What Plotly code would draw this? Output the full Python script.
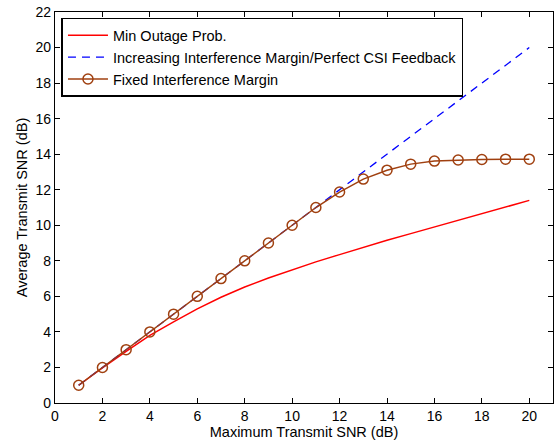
import plotly.graph_objects as go

snr_max = list(range(1, 21))
min_outage = [1.0, 1.98, 2.9, 3.8, 4.57, 5.3, 5.95, 6.53, 7.03, 7.5,
              7.94, 8.35, 8.76, 9.16, 9.53, 9.9, 10.27, 10.65, 11.02, 11.4]
increasing_margin = [1, 2, 3, 4, 5, 6, 7, 8, 9, 10,
                     11, 12, 13, 14, 15, 16, 17, 18, 19, 20]
fixed_margin = [1, 2, 3, 4, 5, 6, 7, 8, 9, 10,
                11.0, 11.87, 12.6, 13.1, 13.44, 13.61, 13.67, 13.7, 13.72, 13.72]

x_ticks = list(range(0, 21, 2))
y_ticks = list(range(0, 23, 2))

font = "Liberation Sans, Arial, Helvetica, sans-serif"
brown = "rgb(160,64,16)"

fig = go.Figure()
fig.add_trace(go.Scatter(x=snr_max, y=min_outage, mode="lines",
                         name="Min Outage Prob.",
                         line=dict(color="#ff0000", width=1.5)))
fig.add_trace(go.Scatter(x=snr_max, y=increasing_margin, mode="lines",
                         name="Increasing Interference Margin/Perfect CSI Feedback",
                         line=dict(color="#0000ff", width=1.3, dash="8px,6px")))
fig.add_trace(go.Scatter(x=snr_max, y=fixed_margin, mode="lines+markers",
                         name="Fixed Interference Margin",
                         line=dict(color=brown, width=1.5),
                         marker=dict(symbol="circle-open", size=10,
                                     color=brown, line=dict(width=1.5))))

axis_common = dict(showgrid=False, zeroline=False, showline=True, mirror="ticks",
                   linecolor="black", linewidth=1.2, ticks="inside", ticklen=5,
                   tickcolor="black", tickwidth=1,
                   tickfont=dict(family=font, size=14, color="black"),
                   title_font=dict(family=font, size=14.5, color="black"))

fig.update_xaxes(range=[0, 21], tickvals=x_ticks,
                 title_text="Maximum Transmit SNR (dB)", title_standoff=3,
                 **axis_common)
fig.update_yaxes(range=[0, 22], tickvals=y_ticks,
                 title_text="Average Transmit SNR (dB)", title_standoff=4,
                 **axis_common)

fig.update_layout(
    width=555, height=444,
    margin=dict(l=55, r=2, t=12, b=41),
    paper_bgcolor="white", plot_bgcolor="white",
    font=dict(family=font, size=14, color="black"),
    legend=dict(x=0.013, y=0.985, xanchor="left", yanchor="top",
                bgcolor="white", bordercolor="black", borderwidth=1.5,
                font=dict(family=font, size=14.5, color="black"),
                tracegroupgap=0, itemwidth=40),
    showlegend=True,
)

fig.write_html("out.html")
